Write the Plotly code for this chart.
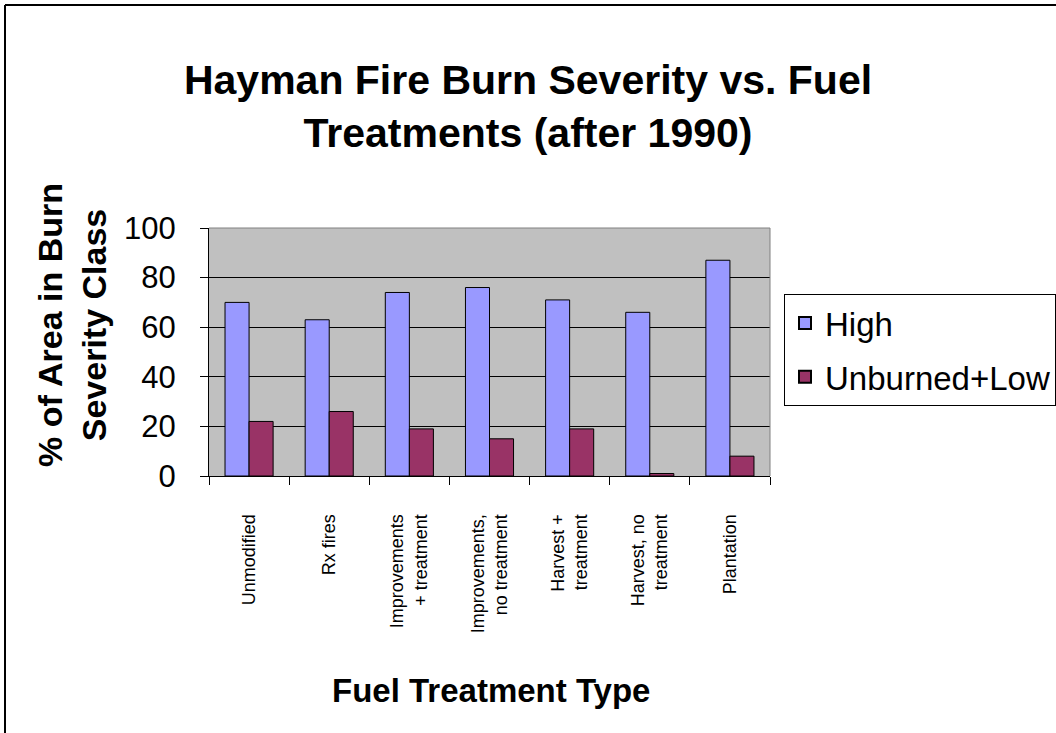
import plotly.graph_objects as go

categories = ["Unmodified", "Rx fires", "Improvements<br>+ treatment", "Improvements,<br>no treatment",
              "Harvest +<br>treatment", "Harvest, no<br>treatment", "Plantation"]
high = [70, 63, 74, 76, 71, 66, 87]
unburned_low = [22, 26, 19, 15, 19, 1, 8]
y_ticks = [0, 20, 40, 60, 80, 100]

FONT = "Liberation Sans, Arial, sans-serif"

fig = go.Figure()
fig.add_trace(go.Bar(name="High", x=categories, y=high, legendgroup="a",
                     marker=dict(color="#9999FF", line=dict(color="#000000", width=1))))
fig.add_trace(go.Bar(name="Unburned+Low", x=categories, y=unburned_low, legendgroup="b",
                     marker=dict(color="#993366", line=dict(color="#000000", width=1))))

L, R, T, B = 209, 770, 228, 476
W, H = 1056, 733

def px_x(x):
    return (x - L) / (R - L)

def px_y(y):
    return (B - y) / (B - T)

fig.update_layout(
    width=W, height=H,
    margin=dict(l=L, r=W - R, t=T, b=H - B, pad=0, autoexpand=False),
    paper_bgcolor="white",
    plot_bgcolor="#C0C0C0",
    barmode="group", bargap=0.4, bargroupgap=0,
    font=dict(family=FONT, color="black"),
    title=dict(text="<b>Hayman Fire Burn Severity vs. Fuel<br>Treatments (after 1990)</b>",
               x=0.5, xanchor="center", y=1 - 94 / H, yanchor="middle",
               font=dict(family=FONT, size=41, color="black")),
    legend=dict(x=px_x(784), xanchor="left", y=px_y(294), yanchor="top",
                bgcolor="white", bordercolor="black", borderwidth=1,
                font=dict(family=FONT, size=33, color="black"),
                itemsizing="constant", tracegroupgap=8,
                entrywidthmode="pixels", entrywidth=300),
    showlegend=True,
)

fig.update_xaxes(type="category", showline=True, linecolor="black", linewidth=1,
                 ticks="outside", tickson="boundaries", ticklen=8, tickcolor="black",
                 tickangle=-90, tickfont=dict(family=FONT, size=18, color="black"),
                 ticklabelstandoff=30, automargin=False, showgrid=False)
fig.update_yaxes(range=[0, 100], tickvals=y_ticks, showline=True, linecolor="black", linewidth=1,
                 ticks="outside", ticklen=8, tickcolor="black",
                 tickfont=dict(family=FONT, size=31, color="black"), automargin=False,
                 ticklabelstandoff=18,
                 showgrid=True, gridcolor="black", gridwidth=1, zeroline=False)

fig.add_annotation(text="<b>% of Area in Burn<br>Severity Class</b>", textangle=-90,
                   xref="paper", yref="paper", x=px_x(72), y=px_y(325),
                   xanchor="center", yanchor="middle", showarrow=False,
                   font=dict(family=FONT, size=34, color="black"))
fig.add_annotation(text="<b>Fuel Treatment Type</b>",
                   xref="paper", yref="paper", x=px_x(491), y=px_y(690),
                   xanchor="center", yanchor="middle", showarrow=False,
                   font=dict(family=FONT, size=33, color="black"))

# plot-area gray frame on top/right
fig.add_shape(type="line", xref="paper", yref="paper", x0=0, x1=1, y0=1, y1=1,
              line=dict(color="#808080", width=1), layer="above")
fig.add_shape(type="line", xref="paper", yref="paper", x0=1, x1=1, y0=0, y1=1,
              line=dict(color="#808080", width=1), layer="above")
# figure border (left and top)
fig.add_shape(type="line", xref="paper", yref="paper", x0=px_x(5), x1=px_x(5), y0=px_y(5), y1=px_y(740),
              line=dict(color="black", width=2))
fig.add_shape(type="line", xref="paper", yref="paper", x0=px_x(5), x1=px_x(1060), y0=px_y(5), y1=px_y(5),
              line=dict(color="black", width=2))

fig.write_html("out.html", config={"displayModeBar": False},
               post_script="document.body.style.margin='0';document.body.style.padding='0';"
                           "document.body.style.overflow='hidden';")
